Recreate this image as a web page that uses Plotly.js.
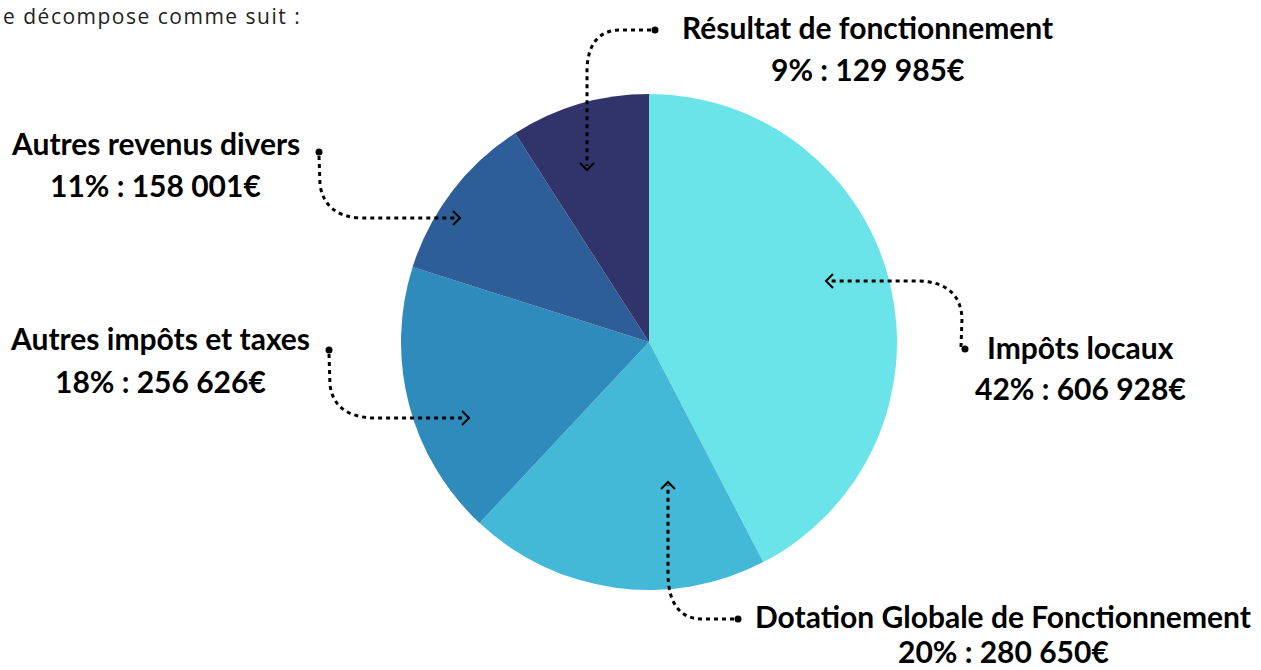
<!DOCTYPE html>
<html>
<head>
<meta charset="utf-8">
<script src="https://cdn.plot.ly/plotly-3.0.1.min.js"></script>
<style>html,body{margin:0;padding:0;background:#fff;}#chart{width:1261px;height:670px;}</style>
</head>
<body>
<div id="chart"></div>
<script>
const categories = ["Impôts locaux", "Dotation Globale de Fonctionnement", "Autres impôts et taxes", "Autres revenus divers", "Résultat de fonctionnement"];
const values = [606928, 280650, 256626, 158001, 129985];
const percentLabels = ["42%", "20%", "18%", "11%", "9%"];
const amountLabels = ["606 928€", "280 650€", "256 626€", "158 001€", "129 985€"];
const colors = ["#6AE3E9", "#43B8D7", "#2E8BBB", "#2E5E98", "#31346A"];
const introText = "e décompose comme suit :";

const W = 1261, H = 670;
const cx = 649, cy = 342, R = 248;

const pie = {
  type: 'pie',
  labels: categories,
  values: values,
  sort: false,
  direction: 'clockwise',
  rotation: 0,
  textinfo: 'none',
  hoverinfo: 'label+value+percent',
  marker: {colors: colors, line: {width: 0}},
  domain: {x: [(cx - R) / W, (cx + R) / W], y: [(H - cy - R) / H, (H - cy + R) / H]},
  showlegend: false
};

const FONT = 'Lato, "Noto Sans", sans-serif';
const FS = 30;
const labelPos = [
  {x: 1080, y1: 347, y2: 388},
  {x: 1003, y1: 616, y2: 651},
  {x: 160, y1: 338, y2: 381},
  {x: 155, y1: 143, y2: 185},
  {x: 867, y1: 27, y2: 69}
];
const annotations = [];
categories.forEach((c, i) => {
  const p = labelPos[i];
  annotations.push({xref: 'x', yref: 'y', x: p.x, y: p.y1, text: '<b>' + c + '</b>', showarrow: false,
    xanchor: 'center', yanchor: 'middle', font: {family: FONT, size: FS, color: '#000'}});
  annotations.push({xref: 'x', yref: 'y', x: p.x, y: p.y2, text: '<b>' + percentLabels[i] + ' : ' + amountLabels[i] + '</b>', showarrow: false,
    xanchor: 'center', yanchor: 'middle', font: {family: FONT, size: FS, color: '#000'}});
});
annotations.push({xref: 'x', yref: 'y', x: 152, y: 16, text: introText, showarrow: false,
  xanchor: 'center', yanchor: 'middle', font: {family: '"Open Sans", sans-serif', size: 21, color: '#222'}});

const lineStyle = {color: '#000', width: 3, dash: '4px,4px'};
const headStyle = {color: '#000', width: 2};
const connectors = [
  {path: 'M 961 347 L 962 318 Q 960 283 920 281 L 828 281', head: 'M 833 274 L 826 281 L 833 288', dot: [965, 349]},
  {path: 'M 734 619 L 700 619 Q 669 617 668 575 L 668 485', head: 'M 661 489 L 668 482 L 675 489', dot: [738, 619]},
  {path: 'M 329 354 L 330 385 Q 334 416 372 418 L 466 418', head: 'M 462 411 L 469 418 L 462 425', dot: [329, 350]},
  {path: 'M 319 156 L 320 185 Q 325 216 360 218 L 456 218', head: 'M 453 211 L 460 218 L 453 225', dot: [319, 152]},
  {path: 'M 651 30 L 618 30 Q 588 32 587 70 L 587 166', head: 'M 580 163 L 587 170 L 594 163', dot: [655, 30]}
];
const shapes = [];
connectors.forEach(cn => {
  shapes.push({type: 'path', xref: 'x', yref: 'y', path: cn.path, line: lineStyle});
  shapes.push({type: 'path', xref: 'x', yref: 'y', path: cn.head, line: headStyle});
  shapes.push({type: 'circle', xref: 'x', yref: 'y', x0: cn.dot[0] - 3.5, x1: cn.dot[0] + 3.5, y0: cn.dot[1] - 3.5, y1: cn.dot[1] + 3.5,
    fillcolor: '#000', line: {width: 0}});
});

const layout = {
  width: W, height: H,
  margin: {l: 0, r: 0, t: 0, b: 0},
  paper_bgcolor: '#fff', plot_bgcolor: 'rgba(0,0,0,0)',
  xaxis: {range: [0, W], visible: false, fixedrange: true},
  yaxis: {range: [H, 0], visible: false, fixedrange: true},
  annotations: annotations,
  shapes: shapes,
  showlegend: false
};

Plotly.newPlot('chart', [pie], layout, {displayModeBar: false, staticPlot: true}).then(() => {
  document.querySelectorAll('.annotation-text').forEach(t => {
    if (t.textContent.indexOf('décompose') >= 0) t.style.letterSpacing = '1.5px';
  });
});
</script>
</body>
</html>
